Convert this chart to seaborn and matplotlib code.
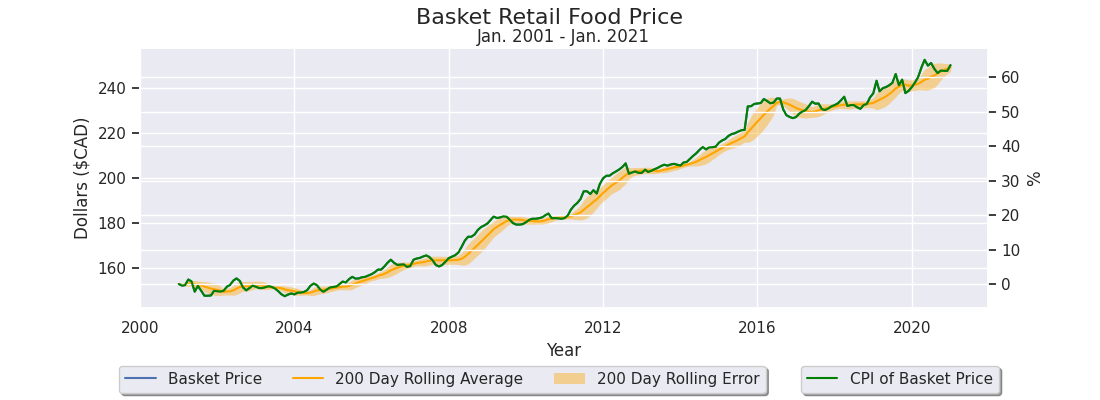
import matplotlib
matplotlib.use("Agg")
import matplotlib.pyplot as plt
import matplotlib.dates as mdates
import seaborn as sns
import pandas as pd
import numpy as np

# monthly basket price ($CAD), Jan 2001 - Jan 2021
START_MONTH = "2001-01-01"
basket_price = [
    153.0, 152.3, 152.5, 155.0, 154.2, 149.6, 152.2, 150.0, 147.8, 147.8, 147.9, 150.0,  # 2001
    149.8, 149.7, 150.0, 151.8, 152.6, 154.5, 155.5, 154.4, 151.5, 150.2, 151.2, 152.3,  # 2002
    151.8, 151.2, 151.2, 151.6, 152.0, 151.7, 151.0, 149.8, 148.4, 147.6, 148.3, 148.8,  # 2003
    148.4, 149.2, 149.2, 149.5, 150.3, 152.3, 153.2, 152.5, 150.5, 149.6, 150.5, 151.4,  # 2004
    151.7, 151.9, 152.9, 154.1, 153.7, 155.2, 156.2, 155.4, 155.5, 156.0, 156.2, 156.8,  # 2005
    157.4, 158.3, 159.4, 159.4, 160.8, 162.5, 163.8, 162.4, 161.5, 161.6, 161.7, 160.6,  # 2006
    161.0, 163.8, 164.3, 164.6, 165.2, 165.7, 165.0, 163.5, 161.4, 160.8, 161.5, 163.0,  # 2007
    164.5, 165.2, 165.8, 167.0, 169.5, 172.3, 174.0, 174.0, 175.0, 177.0, 178.3, 179.0,  # 2008
    179.9, 181.5, 183.0, 182.3, 182.6, 183.1, 182.9, 181.5, 180.0, 179.4, 179.4, 179.6,  # 2009
    180.5, 181.5, 182.0, 182.0, 182.2, 182.6, 183.5, 184.3, 182.2, 182.3, 182.2, 182.0,  # 2010
    182.3, 183.5, 186.0, 187.8, 189.0, 190.8, 194.2, 194.2, 193.0, 194.7, 193.2, 197.5,  # 2011
    200.0, 201.1, 201.1, 202.2, 203.0, 203.9, 205.0, 206.6, 202.0, 202.6, 203.0, 202.4,  # 2012
    202.4, 203.8, 202.8, 203.3, 204.0, 204.6, 205.4, 206.0, 205.6, 206.1, 206.4, 206.0,  # 2013
    205.6, 207.0, 207.2, 208.6, 209.9, 211.1, 212.6, 213.9, 212.8, 213.7, 213.8, 214.0,  # 2014
    215.8, 216.8, 217.4, 218.8, 219.6, 220.0, 220.7, 221.3, 221.5, 231.9, 232.0, 233.0,  # 2015
    233.2, 233.4, 235.2, 234.3, 233.3, 233.6, 235.4, 235.4, 230.5, 228.0, 227.2, 226.7,  # 2016
    227.2, 228.8, 229.6, 230.3, 232.0, 234.0, 233.1, 233.2, 230.7, 230.3, 231.0, 231.9,  # 2017
    232.5, 233.3, 234.6, 236.2, 232.1, 232.5, 232.5, 231.5, 230.8, 232.5, 233.0, 235.9,  # 2018
    237.7, 243.3, 238.6, 240.0, 240.5, 241.3, 242.4, 246.3, 241.3, 243.8, 237.8, 238.8,  # 2019
    240.5, 242.6, 245.0, 249.2, 252.6, 250.0, 251.2, 248.6, 246.7, 247.8, 247.7, 247.7,  # 2020
    250.2,                                                                               # 2021
]

ROLL_WINDOW = 10  # months, roughly what the chart's smoothing looks like
X_RANGE = ("1999-12-28", "2021-12-20")

sns.set_theme(style="darkgrid")

df = pd.DataFrame({
    "Date": pd.date_range(START_MONTH, periods=len(basket_price), freq="MS"),
    "Price": basket_price,
})
df["Rolling"] = df["Price"].rolling(ROLL_WINDOW, min_periods=1).mean()
df["RollStd"] = df["Price"].rolling(ROLL_WINDOW, min_periods=1).std().fillna(0)
df["CPI"] = (df["Price"] / df["Price"].iloc[0] - 1) * 100

fig, ax = plt.subplots(figsize=(11, 4), dpi=100)
fig.subplots_adjust(left=0.127, right=0.898, top=0.88, bottom=0.23)

sns.lineplot(data=df, x="Date", y="Price", ax=ax, label="Basket Price")
sns.lineplot(data=df, x="Date", y="Rolling", ax=ax, color="orange",
             label="200 Day Rolling Average")
ax.fill_between(df["Date"], df["Rolling"] - df["RollStd"], df["Rolling"] + df["RollStd"],
                color="orange", alpha=0.4, linewidth=0, label="200 Day Rolling Error")

ax2 = ax.twinx()
sns.lineplot(data=df, x="Date", y="CPI", ax=ax2, color="green", label="CPI of Basket Price")

for a in (ax, ax2):
    if a.get_legend():
        a.get_legend().remove()

ax.set_xlim(pd.Timestamp(X_RANGE[0]), pd.Timestamp(X_RANGE[1]))
ax.xaxis.set_major_locator(mdates.YearLocator(4))
ax.xaxis.set_major_formatter(mdates.DateFormatter("%Y"))
ax.set_xlabel("Year")
ax.set_ylabel("Dollars ($CAD)")
ax2.set_ylabel("%")

fig.suptitle("Basket Retail Food Price", fontsize=16, y=0.98)
ax.set_title("Jan. 2001 - Jan. 2021", fontsize=12, pad=4)

h1, l1 = ax.get_legend_handles_labels()
h2, l2 = ax2.get_legend_handles_labels()
fig.legend(h1, l1, loc="center", bbox_to_anchor=(0.402, 0.052), ncol=3, shadow=True)
fig.legend(h2, l2, loc="center", bbox_to_anchor=(0.818, 0.052), shadow=True)

plt.savefig("out.png")
plt.close()
